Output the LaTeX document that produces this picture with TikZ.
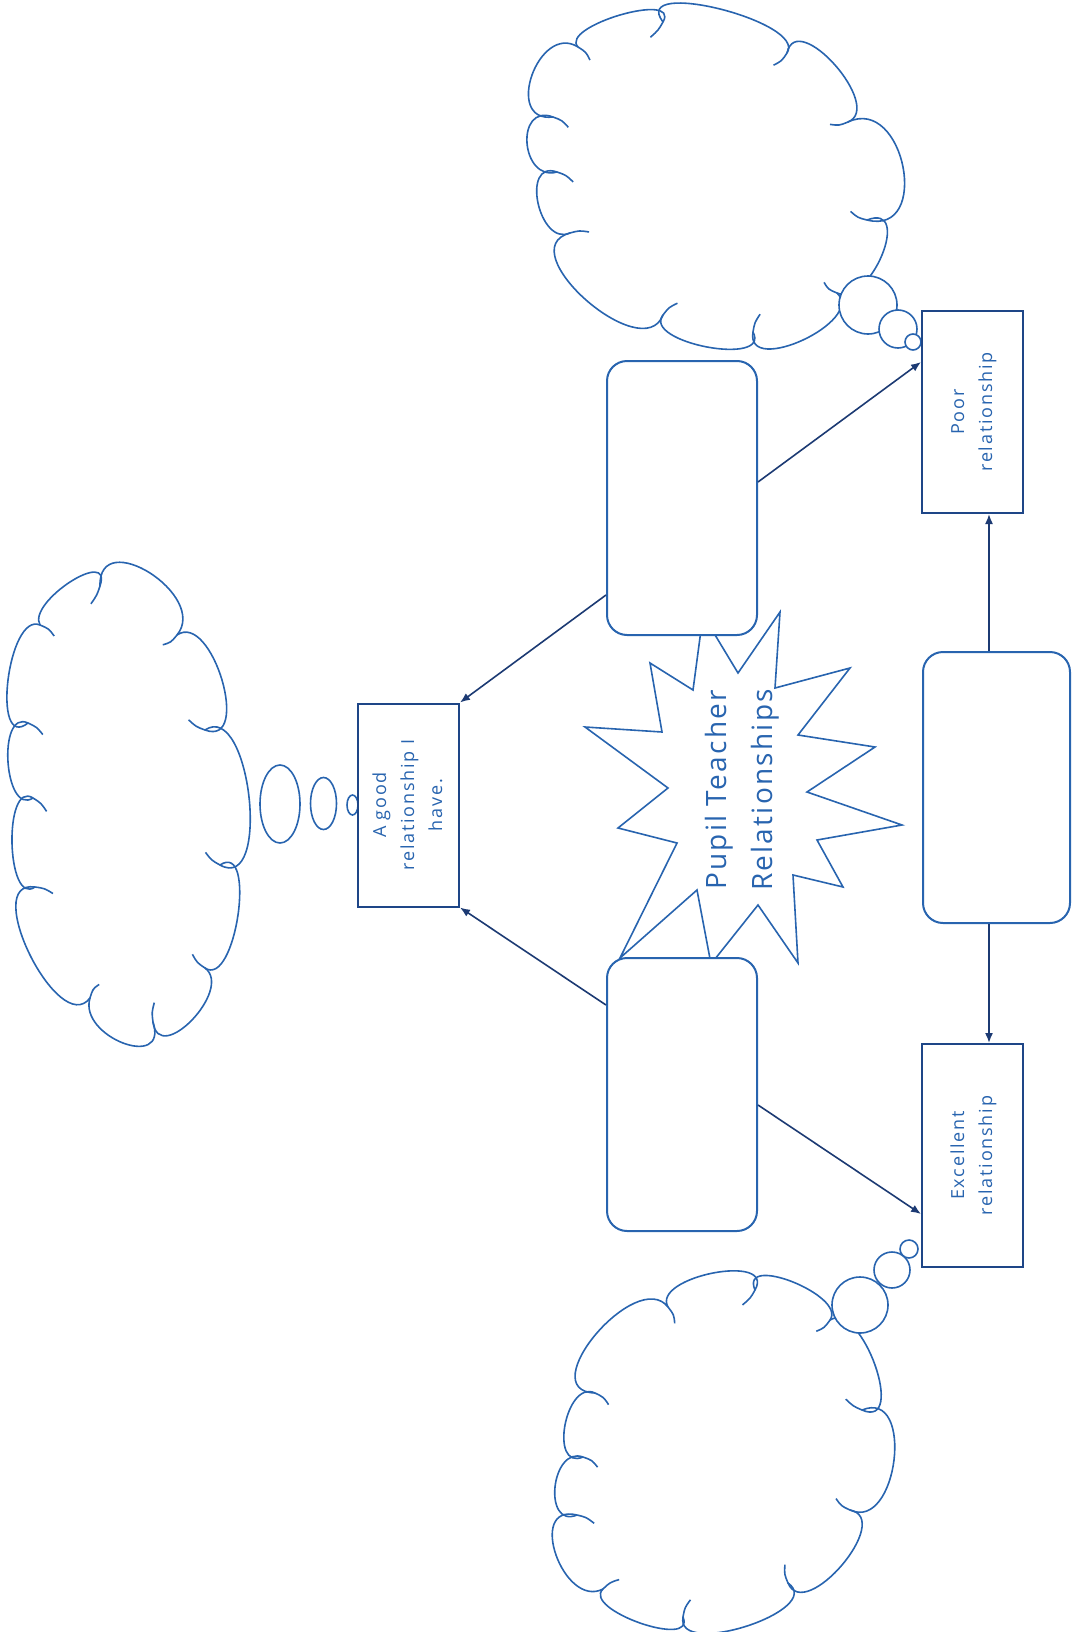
\documentclass[tikz,border=0pt]{standalone}
\usepackage{fontspec}
\setmainfont{Open Sans}
\newfontfamily\boxfont[LetterSpace=10]{Open Sans}
\newfontfamily\titlefont[LetterSpace=8]{Open Sans}
\usetikzlibrary{arrows.meta,calc}
\definecolor{bl}{RGB}{40,100,175}
\definecolor{nv}{RGB}{30,70,135}
\definecolor{an}{RGB}{28,58,115}
\newcommand\puff[7]{%
 \pgfmathsetmacro\pvx{4/3*(#3-(#1+#5)/2)}%
 \pgfmathsetmacro\pvy{4/3*(#4-(#2+#6)/2)}%
 \pgfmathsetmacro\pcl{veclen(#5-#1,#6-#2)}%
 \pgfmathsetmacro\pwx{(#5-#1)/\pcl}%
 \pgfmathsetmacro\pwy{(#6-#2)/\pcl}%
 \pgfmathsetmacro\psx{0.22*(#5-#1)}%
 \pgfmathsetmacro\psy{0.22*(#6-#2)}%
 \pgfmathsetmacro\pdl{veclen(\pvx+\psx,\pvy+\psy)}%
 \pgfmathsetmacro\pdx{-(\pvx+\psx)/\pdl}%
 \pgfmathsetmacro\pdy{-(\pvy+\psy)/\pdl}%
 \draw[cloudline] (#1,#2) .. controls ({#1+(\pvx)-(\psx)},{#2+(\pvy)-(\psy)}) and ({#5+(\pvx)+(\psx)},{#6+(\pvy)+(\psy)}) .. (#5,#6)
   .. controls ({#5+0.6*#7*(\pdx)},{#6+0.6*#7*(\pdy)}) .. ({#5+#7*(\pdx)-0.3*#7*(\pwx)},{#6+#7*(\pdy)-0.3*#7*(\pwy)});
}
\begin{document}
\begin{tikzpicture}[x=1pt,y=-1pt,
  cloudline/.style={draw=bl,line width=1.6pt},
  box/.style={draw=nv,line width=2pt,fill=white,inner sep=0pt,font=\boxfont\fontsize{18}{28}\selectfont,text=bl},
  rbox/.style={draw=bl,line width=2pt,fill=white,rounded corners=20pt,inner sep=0pt},
  conn/.style={draw=an,line width=1.6pt,-{Latex[length=10pt,width=8pt]}},
  bubble/.style={draw=bl,line width=1.6pt,fill=white},
  starline/.style={draw=bl,line width=1.6pt,fill=white}]
\useasboundingbox (0,0) rectangle (1072,1632);
% cloud near "A good relationship"
\puff{40}{625}{70}{582}{100}{586}{16}
\puff{100}{586}{150}{573}{177}{635}{16}
\puff{177}{635}{222}{680}{205}{730}{16}
\puff{205}{730}{249}{797}{220}{865}{16}
\puff{220}{865}{238}{915}{205}{968}{16}
\puff{205}{968}{192}{1020}{153}{1022}{16}
\puff{153}{1022}{123}{1043}{90}{998}{16}
\puff{90}{998}{30}{955}{35}{887}{16}
\puff{35}{887}{12}{843}{33}{798}{16}
\puff{33}{798}{8}{762}{28}{723}{16}
\puff{28}{723}{8}{680}{40}{625}{16}
% cloud near "Poor relationship"
\puff{578}{47}{620}{15}{663}{22}{16}
\puff{663}{22}{720}{9}{787}{53}{16}
\puff{787}{53}{835}{65}{848}{122}{16}
\puff{848}{122}{903}{167}{867}{220}{16}
\puff{867}{220}{882}{255}{837}{293}{16}
\puff{837}{293}{803}{340}{753}{332}{16}
\puff{753}{332}{707}{347}{663}{315}{16}
\puff{663}{315}{586}{300}{570}{233}{16}
\puff{570}{233}{538}{203}{557}{172}{16}
\puff{557}{172}{527}{143}{553}{117}{16}
\puff{553}{117}{532}{75}{578}{47}{16}
% cloud near "Excellent relationship"
\puff{668}{1307}{713}{1273}{755}{1290}{16}
\puff{755}{1290}{793}{1282}{830}{1320}{16}
\puff{830}{1320}{875}{1365}{862}{1410}{16}
\puff{862}{1410}{894}{1460}{850}{1510}{16}
\puff{850}{1510}{842}{1565}{788}{1583}{16}
\puff{788}{1583}{747}{1626}{683}{1617}{16}
\puff{683}{1617}{640}{1623}{603}{1589}{16}
\puff{603}{1589}{556}{1555}{577}{1515}{16}
\puff{577}{1515}{555}{1487}{583}{1457}{16}
\puff{583}{1457}{565}{1425}{595}{1393}{16}
\puff{595}{1393}{596}{1334}{668}{1307}{16}
% thought bubbles
\draw[bubble] (280,804) ellipse [x radius=20pt, y radius=39pt];
\draw[bubble] (323.5,803.5) ellipse [x radius=13pt, y radius=26pt];
\draw[bubble] (352.5,805) ellipse [x radius=5.5pt, y radius=10pt];
\draw[bubble] (868,305) circle [radius=29pt];
\draw[bubble] (898,329) circle [radius=19pt];
\draw[bubble] (913,342) circle [radius=8pt];
\draw[bubble] (860,1305) circle [radius=28pt];
\draw[bubble] (892,1270) circle [radius=18pt];
\draw[bubble] (909,1249) circle [radius=9pt];
% star
\draw[starline] (703,615) -- (738,673) -- (780,612) -- (775,688) -- (850,668) -- (798,735)
  -- (875,747) -- (807,792) -- (902,825) -- (817,840) -- (843,887) -- (793,875)
  -- (798,963) -- (758,905) -- (711,964) -- (697,890) -- (620,958) -- (677,843)
  -- (618,828) -- (668,788) -- (585,727) -- (662,732) -- (650,663) -- (693,690) -- cycle;
\node[text=bl,font=\titlefont\fontsize{28}{46}\selectfont,inner sep=0pt] (title) at (740,790)
  {\rotatebox{90}{\begin{tabular}{@{}c@{}}Pupil Teacher\\Relationships\end{tabular}}};
% rounded boxes
\node[rbox,minimum width=150pt,minimum height=274pt] (up) at (682,498) {};
\node[rbox,minimum width=150pt,minimum height=273pt] (low) at (682,1094.5) {};
\node[rbox,minimum width=147pt,minimum height=271pt] (mid) at (996.5,787.5) {};
% label boxes
\node[box,minimum width=101pt,minimum height=203pt] (good) at (408.5,805)
  {\rotatebox{90}{\begin{tabular}{@{}c@{}}A good\\relationship I\\have.\end{tabular}}};
\node[box,minimum width=101pt,minimum height=202pt] (poor) at (972.5,412)
  {\rotatebox{90}{\begin{tabular}{@{}c@{}}Poor\\relationship\end{tabular}}};
\node[box,minimum width=101pt,minimum height=223pt] (exc) at (972.5,1155.5)
  {\rotatebox{90}{\begin{tabular}{@{}c@{}}Excellent\\relationship\end{tabular}}};
% connectors
\draw[conn] ([yshift=-97pt]up.west) -- (good.north east);
\draw[conn] ([yshift=89.5pt]low.west) -- (good.south east);
\draw[conn] ([yshift=16pt]up.east) -- ([yshift=-52pt]poor.north west);
\draw[conn] ([yshift=-10.5pt]low.east) -- ([yshift=54pt]exc.south west);
\draw[conn] ([xshift=-7.5pt]mid.north) -- ([xshift=-7.5pt]mid.north |- poor.south);
\draw[conn] ([xshift=-7.5pt]mid.south) -- ([xshift=-7.5pt]mid.south |- exc.north);
\end{tikzpicture}
\end{document}
